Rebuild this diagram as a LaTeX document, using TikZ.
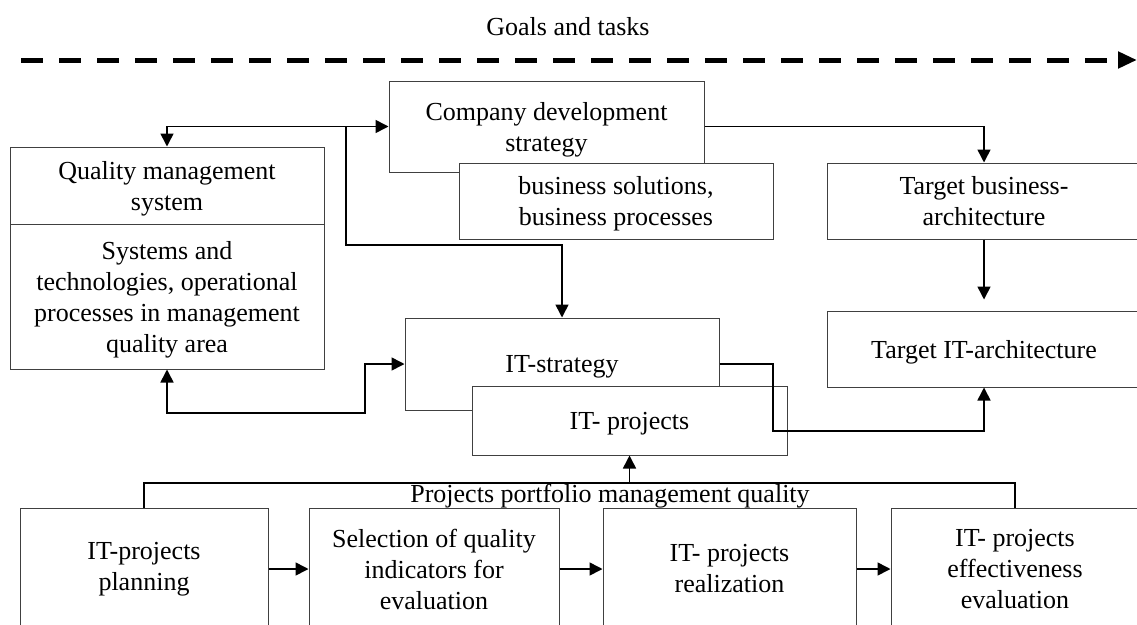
\documentclass[tikz,border=0pt]{standalone}
\usepackage{fontspec}
\setmainfont{Liberation Serif}
\usepackage{tikz}
\usetikzlibrary{arrows.meta}

\begin{document}
\begin{tikzpicture}[x=1pt,y=-1pt,
  >={Triangle[length=13pt,width=13pt]},
  box/.style={draw=black!75, line width=1pt, fill=white, inner sep=0pt, align=center},
  upbox/.style={box, text depth=-4pt},
  link/.style={line width=1.6pt},
  every node/.style={font=\fontsize{26}{31}\selectfont}]
\useasboundingbox (0,0) rectangle (1137,624);
\clip (0,0) rectangle (1137,624);

% goals line on top
\node (goals) at (568,27) {Goals and tasks};
\coordinate (gs) at (21,60);
\coordinate (ge) at (1137,60);
\draw[line width=5pt, dash pattern=on 22pt off 16pt, -{Triangle[length=19pt,width=16pt]}] (gs) -- (ge);

% upper blocks
\node[upbox, minimum width=314pt, minimum height=77pt] (qms) at (167,185.5) {Quality management\\system};
\node[upbox, minimum width=314pt, minimum height=145pt] (qmsarea) at (167,296.5) {Systems and\\technologies, operational\\processes in management\\quality area};
\node[upbox, minimum width=315pt, minimum height=91pt] (cds) at (546.5,126.5) {Company development\\strategy};
\node[upbox, minimum width=314pt, minimum height=76pt] (bsp) at (616,201) {business solutions,\\business processes};
\node[upbox, minimum width=314pt, minimum height=76pt] (tba) at (984,201) {Target business-\\architecture};
\node[upbox, minimum width=314pt, minimum height=76pt] (tia) at (984,349) {Target IT-architecture};
\node[upbox, minimum width=314pt, minimum height=92pt] (its) at (562,364) {IT-strategy};
\node[upbox, minimum width=315pt, minimum height=69pt] (itp) at (629.5,420.5) {IT- projects};

% bottom row
\foreach \n/\x/\w/\t in {pl/144/248/{IT-projects\\planning}, sel/434/250/{Selection of quality\\indicators for\\evaluation}, rl/729.5/253/{IT- projects\\realization}, ev/1015/248/{IT- projects\\effectiveness\\evaluation}}
  \node[box, minimum width=\w pt, minimum height=122pt] (\n) at (\x,569) {\t};
\foreach \a/\b in {pl/sel, sel/rl, rl/ev}
  \draw[link,->] (\a) -- (\b);

\node (pfm) at (610,496) {Projects portfolio management quality};
\coordinate (pm) at (629.5,483);
\draw[link] (pl.north) |- (pm) -| (ev.north);
\draw[link,->] (pm) -- (itp.south);

% connectors
\coordinate (k0) at (346,126);
\coordinate (k1) at (562,245);
\coordinate (k2) at (773,431);
\coordinate (k3) at (365,413);
\draw[link,<->] (qms.north) |- (cds.west);
\draw[link,->] (k0) |- (k1) -- (its.north);
\draw[link,->] (cds.east) -| (tba.north);
\draw[link,->,shorten >=11pt] (tba.south) -- (tia.north);
\draw[link,->] (its.east) -| (k2) -| (tia.south);
\draw[link,<->] (qmsarea.south) |- (k3) |- (its.west);
\end{tikzpicture}
\end{document}
